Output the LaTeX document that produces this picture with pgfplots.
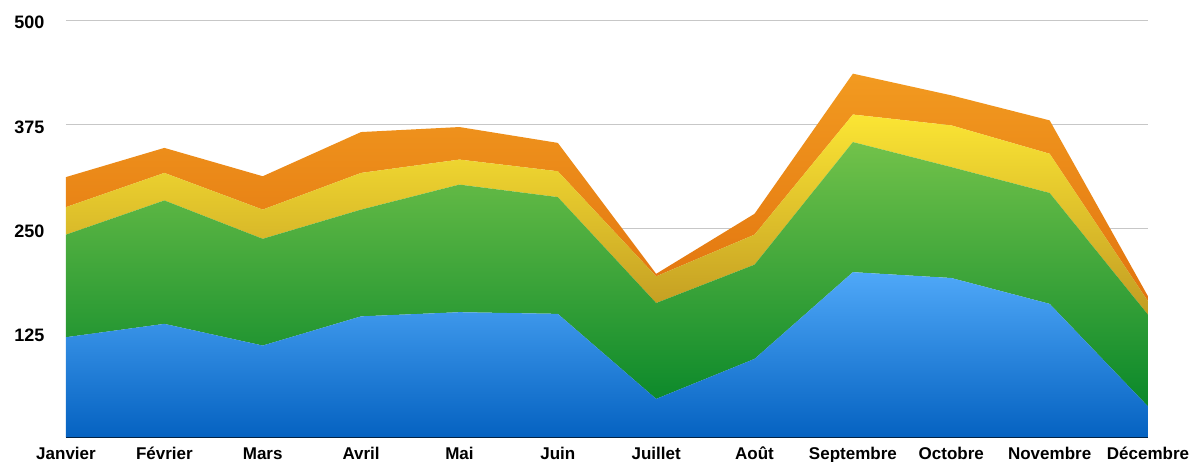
\documentclass[border=0pt]{standalone}
\usepackage{fontspec}
\setmainfont{Liberation Sans}
\usepackage{pgfplots}
\pgfplotsset{compat=1.18}
\definecolor{bluetop}{HTML}{4FA8F8}
\definecolor{bluebot}{HTML}{0562C1}
\definecolor{greentop}{HTML}{72C24A}
\definecolor{greenbot}{HTML}{0A882A}
\definecolor{yeltop}{HTML}{FBE534}
\definecolor{yelbot}{HTML}{C29C22}
\definecolor{ortop}{HTML}{F29A20}
\definecolor{orbot}{HTML}{E2740F}
\begin{document}
\begin{tikzpicture}
\path[use as bounding box] (0,0) rectangle (1190pt,462pt);
\begin{axis}[
  at={(66pt,24.7pt)}, anchor=south west,
  scale only axis, width=1082pt, height=417pt,
  xmin=0, xmax=11, ymin=0, ymax=500,
  stack plots=y,
  xtick={0,...,11},
  xticklabels={Janvier,Février,Mars,Avril,Mai,Juin,Juillet,Août,Septembre,Octobre,Novembre,Décembre},
  ytick={125,250,375,500},
  major tick length=0pt,
  axis lines*=left,
  y axis line style={draw=none},
  x axis line style={line width=2pt, black, -},
  ymajorgrids, grid style={draw=black!22, line width=1pt},
  /pgf/number format/assume math mode=true,
  yticklabel style={font=\bfseries\fontsize{18}{18}\selectfont, anchor=east, xshift=-18pt, yshift=-2.5pt},
  xticklabel style={font=\bfseries\fontsize{17}{17}\selectfont, anchor=base, inner sep=0pt, yshift=-22.7pt},
]
\addplot[draw=none, top color=bluetop, bottom color=bluebot] coordinates {
(0,120) (1,136) (2,110) (3,145) (4,150) (5,148) (6,46) (7,94) (8,198) (9,191) (10,160) (11,37)} \closedcycle;
\addplot[draw=none, top color=greentop, bottom color=greenbot] coordinates {
(0,123) (1,148) (2,128) (3,128) (4,153) (5,140) (6,115) (7,113) (8,156) (9,133) (10,133) (11,110)} \closedcycle;
\addplot[draw=none, top color=yeltop, bottom color=yelbot] coordinates {
(0,33) (1,33) (2,35) (3,44) (4,30) (5,31) (6,32) (7,36) (8,33) (9,50) (10,47) (11,16)} \closedcycle;
\addplot[draw=none, top color=ortop, bottom color=orbot] coordinates {
(0,36) (1,30) (2,40) (3,49) (4,39) (5,34) (6,3) (7,25) (8,49) (9,36) (10,40) (11,6)} \closedcycle;
\end{axis}
\end{tikzpicture}
\end{document}
